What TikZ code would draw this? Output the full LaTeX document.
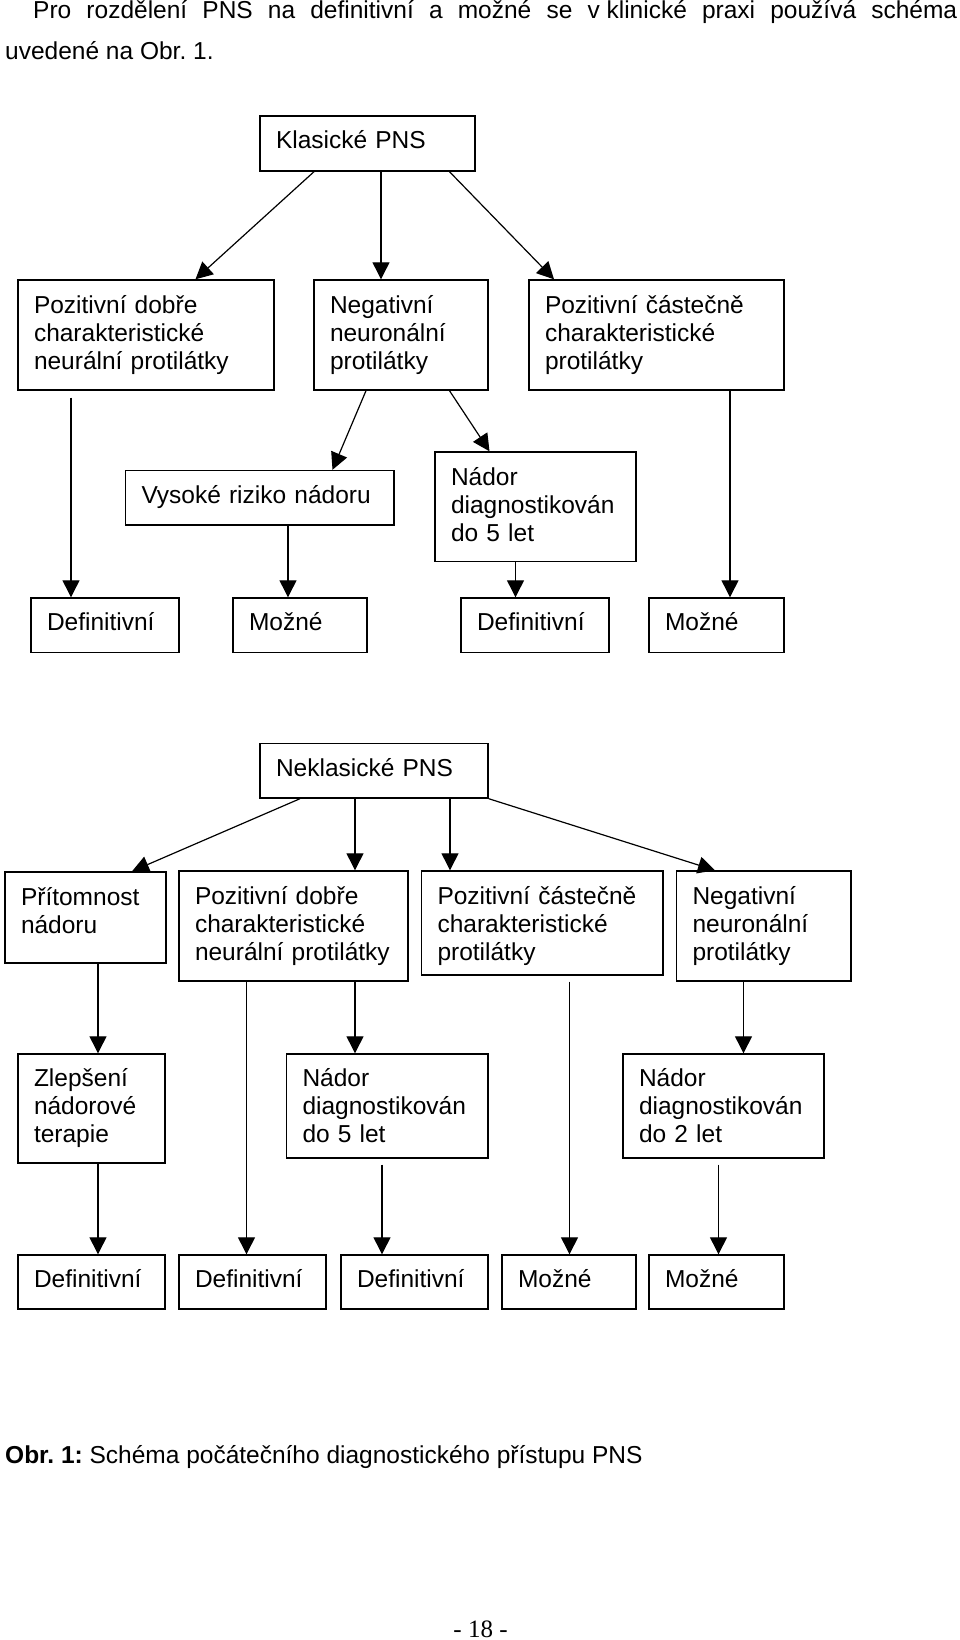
\documentclass[tikz,border=0pt]{standalone}
\usepackage{fontspec}
\setmainfont{Liberation Sans}
\newfontfamily\pagefont{Liberation Serif}
\usetikzlibrary{arrows.meta}

\begin{document}
\begin{tikzpicture}[x=1pt,y=-1pt,
  every node/.style={font=\fontsize{24.5}{28}\selectfont},
  box/.style={draw, line width=1.4pt, inner xsep=16pt, inner ysep=0pt, align=left},
  oneline/.style={text height=18pt, text depth=7pt},
  arr/.style={line width=1.2pt, -{Triangle[length=17pt,width=17pt]}},
  txt/.style={inner sep=0pt, anchor=base west}]
  \useasboundingbox (0,0) rectangle (960,1640);
  \node[txt] (par1) at (33,19)
    {\makebox[924pt][s]{Pro rozdělení PNS na definitivní a možné se v\mbox{ }klinické praxi používá schéma}};
  \node[txt] (par2) at (5,60) {uvedené na Obr.\ 1.};

  \node[box, oneline, text width=183pt, minimum height=55pt] (kl) at (367.5,143.5) {Klasické PNS};
  \node[box, text width=224pt, minimum height=110pt] (kpd) at (146,335)
    {Pozitivní dobře\\charakteristické\\neurální protilátky};
  \node[box, text width=142pt, minimum height=110pt] (kneg) at (401,335)
    {Negativní\\neuronální\\protilátky};
  \node[box, text width=223pt, minimum height=110pt] (kpc) at (656.5,335)
    {Pozitivní částečně\\charakteristické\\protilátky};
  \node[box, oneline, text width=236.5pt, minimum height=54.5pt] (kvys) at (259.75,497.75) {Vysoké riziko nádoru};
  \node[box, text width=169pt, minimum height=109.5pt, text depth=60pt] (knad) at (535.5,506.75)
    {Nádor\\diagnostikován\\do 5 let};
  \node[box, oneline, text width=116pt, minimum height=54.5pt] (kdef1) at (105,625.25) {Definitivní};
  \node[box, oneline, text width=102pt, minimum height=54.5pt] (kmoz1) at (300,625.25) {Možné};
  \node[box, oneline, text width=116pt, minimum height=54.5pt] (kdef2) at (535,625.25) {Definitivní};
  \node[box, oneline, text width=103pt, minimum height=54.5pt] (kmoz2) at (716.5,625.25) {Možné};

  \draw[arr] ([xshift=-53.5]kl.south) -- ([xshift=49.5]kpd.north);
  \draw[arr] ([xshift=13.5]kl.south) -- ([xshift=-20]kneg.north);
  \draw[arr] ([xshift=82]kl.south) -- ([xshift=-102.5]kpc.north);
  \draw[arr] ([xshift=-75,yshift=-7]kpd.south) -- ([xshift=-34]kdef1.north);
  \draw[arr] ([xshift=-35]kneg.south) -- ([xshift=72.75]kvys.north);
  \draw[arr] ([xshift=48.5]kneg.south) -- ([xshift=-46]knad.north);
  \draw[arr] ([xshift=28.25]kvys.south) -- ([xshift=-12]kmoz1.north);
  \draw[arr] ([xshift=-20]knad.south) -- ([xshift=-19.5]kdef2.north);
  \draw[arr] ([xshift=73.5]kpc.south) -- ([xshift=13.5]kmoz2.north);

  \node[box, oneline, text width=196pt, minimum height=54.5pt] (nk) at (374,770.75) {Neklasické PNS};
  \node[box, text width=129pt, minimum height=91pt, text depth=43pt] (npr) at (85.5,917.5)
    {Přítomnost\\nádoru};
  \node[box, text width=197pt, minimum height=110pt] (npd) at (293.5,926)
    {Pozitivní dobře\\charakteristické\\neurální protilátky};
  \node[box, text width=209.5pt, minimum height=104pt, text depth=55pt] (npc) at (542.25,923)
    {Pozitivní částečně\\charakteristické\\protilátky};
  \node[box, text width=142.5pt, minimum height=110pt] (nneg) at (763.75,926)
    {Negativní\\neuronální\\protilátky};
  \node[box, text width=115pt, minimum height=109pt] (nzl) at (91.5,1108.5)
    {Zlepšení\\nádorové\\terapie};
  \node[box, text width=169.5pt, minimum height=104pt] (nnad5) at (387.25,1106)
    {Nádor\\diagnostikován\\do 5 let};
  \node[box, text width=169pt, minimum height=104pt] (nnad2) at (723.5,1106)
    {Nádor\\diagnostikován\\do 2 let};
  \node[box, oneline, text width=115pt, minimum height=54pt] (ndef1) at (91.5,1282) {Definitivní};
  \node[box, oneline, text width=115pt, minimum height=54pt] (ndef2) at (252.5,1282) {Definitivní};
  \node[box, oneline, text width=115pt, minimum height=54pt] (ndef3) at (414.5,1282) {Definitivní};
  \node[box, oneline, text width=102pt, minimum height=54pt] (nmoz1) at (569,1282) {Možné};
  \node[box, oneline, text width=103pt, minimum height=54pt] (nmoz2) at (716.5,1282) {Možné};

  \draw[arr] ([xshift=-74]nk.south) -- ([xshift=46.5]npr.north);
  \draw[arr] ([xshift=-19]nk.south) -- ([xshift=61.5]npd.north);
  \draw[arr] ([xshift=76]nk.south) -- ([xshift=-92.25]npc.north);
  \draw[arr] (nk.south east) -- ([xshift=-48.75]nneg.north);
  \draw[arr] ([xshift=12.5]npr.south) -- ([xshift=6.5]nzl.north);
  \draw[arr] ([xshift=-47]npd.south) -- ([xshift=-6]ndef2.north);
  \draw[arr] ([xshift=61.5]npd.south) -- ([xshift=-32.25]nnad5.north);
  \draw[arr] ([xshift=27.25,yshift=-6]npc.south) -- ([xshift=0.5]nmoz1.north);
  \draw[arr] ([xshift=-20.25]nneg.south) -- ([xshift=20]nnad2.north);
  \draw[arr] ([xshift=6.5]nzl.south) -- ([xshift=6.5]ndef1.north);
  \draw[arr] ([xshift=-5.25,yshift=-6]nnad5.south) -- ([xshift=-32.5]ndef3.north);
  \draw[arr] ([xshift=-5,yshift=-6]nnad2.south) -- ([xshift=2]nmoz2.north);

  \node[txt] (cap) at (5,1463) {\textbf{Obr.\ 1:}\ Schéma počátečního diagnostického přístupu PNS};
  \node[inner sep=0pt, anchor=base, font=\pagefont\fontsize{25}{28}\selectfont] (pg) at (480.5,1637) {- 18 -};
\end{tikzpicture}
\end{document}
